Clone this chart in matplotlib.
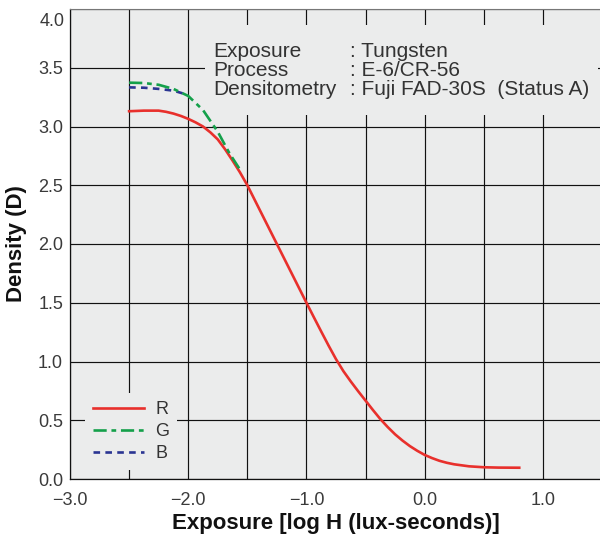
import matplotlib
matplotlib.use("Agg")
import matplotlib.pyplot as plt
from matplotlib.ticker import MultipleLocator, FuncFormatter
from matplotlib.patches import Rectangle

plt.rcParams['font.family'] = ['Liberation Sans', 'DejaVu Sans']

# Data
r_x = [-2.5, -2.375, -2.25, -2.1875, -2.125, -2.0625, -2.0, -1.9375, -1.875, -1.8125,
       -1.75, -1.6875, -1.625, -1.5625, -1.5, -1.375, -1.25, -1.125, -1.0, -0.9375,
       -0.875, -0.8125, -0.75, -0.6875, -0.625, -0.5625, -0.5, -0.4375, -0.375, -0.3125,
       -0.25, -0.1875, -0.125, -0.0625, 0.0, 0.0625, 0.125, 0.1875, 0.25, 0.375,
       0.5, 0.625, 0.8]
r_y = [3.13, 3.135, 3.135, 3.125, 3.11, 3.09, 3.065, 3.035, 3.0, 2.95,
       2.89, 2.805, 2.71, 2.61, 2.50, 2.25, 2.00, 1.75, 1.50, 1.377,
       1.255, 1.135, 1.02, 0.918, 0.83, 0.747, 0.667, 0.587, 0.51, 0.442,
       0.38, 0.327, 0.28, 0.24, 0.205, 0.178, 0.155, 0.138, 0.125, 0.108,
       0.10, 0.097, 0.096]
g_x = [-2.5, -2.375, -2.25, -2.125, -2.0, -1.875, -1.75, -1.65, -1.56]
g_y = [3.373, 3.37, 3.355, 3.32, 3.26, 3.14, 2.955, 2.77, 2.63]
b_x = [-2.5, -2.375, -2.25, -2.125, -2.04]
b_y = [3.333, 3.33, 3.32, 3.305, 3.28]

info_keys = ["Exposure", "Process", "Densitometry"]
info_vals = [": Tungsten", ": E-6/CR-56", ": Fuji FAD-30S  (Status A)"]

BG = "#ebecec"
TXT = "#333333"

fig = plt.figure(figsize=(6.0, 5.39), dpi=100)
ax = fig.add_axes([70/600, 60/539, 532/600, 470/539])
ax.set_facecolor(BG)

ax.plot(r_x, r_y, color="#e8302c", lw=1.9, label="R", zorder=4)
ax.plot(g_x, g_y, color="#14a04a", lw=1.9, ls=(0, (5, 1.8, 1.8, 1.8)), label="G", zorder=4)
ax.plot(b_x, b_y, color="#2a3592", lw=1.9, ls=(0, (2.5, 2.0)), label="B", zorder=3)

YMAX = 4.0
ax.set_xlim(-3.0, 1.5)
ax.set_ylim(0.0, YMAX)
ax.xaxis.set_major_locator(MultipleLocator(0.5))
ax.yaxis.set_major_locator(MultipleLocator(0.5))

def xfmt(v, pos):
    if abs(v - round(v)) < 1e-6 and v < 1.4:
        return f"{v:.1f}".replace("-", "\u2212")
    return ""

def yfmt(v, pos):
    if v > YMAX - 1e-6:
        return ""
    return f"{v:.1f}"

ax.xaxis.set_major_formatter(FuncFormatter(xfmt))
ax.yaxis.set_major_formatter(FuncFormatter(yfmt))

ax.grid(True, color="#111111", lw=0.85, zorder=1)
ax.set_axisbelow(True)
ax.tick_params(length=0, labelsize=13, labelcolor="#3a3a3a")
ax.tick_params(axis='x', pad=9.5)
ax.tick_params(axis='y', pad=5)

# top label (shifted down inside the frame, as in the reference)
ax.annotate(f"{YMAX:.1f}", xy=(0, 1), xycoords="axes fraction",
            xytext=(-5 * 72 / 100, -12 * 72 / 100), textcoords="offset points",
            ha="right", va="center", fontsize=13, color="#3a3a3a")

for s in ["left", "bottom"]:
    ax.spines[s].set_color("#111111")
    ax.spines[s].set_linewidth(0.9)
ax.spines["top"].set_color("#777777")
ax.spines["top"].set_linewidth(0.8)
ax.spines["top"].set_linestyle((0, (1, 1)))
ax.spines["right"].set_visible(False)

ax.set_xlabel("Exposure [log H (lux-seconds)]", fontsize=16, fontweight="bold",
              color="#111111", labelpad=3)
ax.set_ylabel("Density (D)", fontsize=16, fontweight="bold", color="#111111",
              labelpad=8)

# info box
ax.add_patch(Rectangle((0.254, 0.774), 0.738, 0.192, transform=ax.transAxes,
                       facecolor=BG, edgecolor="none", zorder=2))
ys = [0.898, 0.857, 0.817]
for k, v, y in zip(info_keys, info_vals, ys):
    ax.text(0.269, y, k, transform=ax.transAxes, fontsize=15, color=TXT,
            va="baseline", ha="left", zorder=5)
    ax.text(0.526, y, v, transform=ax.transAxes, fontsize=15, color=TXT,
            va="baseline", ha="left", zorder=5)

leg = ax.legend(loc="lower left", bbox_to_anchor=(0.028, 0.019), fontsize=13,
                handlelength=2.8, handletextpad=0.65, labelspacing=0.27,
                borderpad=0.45, borderaxespad=0, frameon=True, fancybox=False)
leg.get_frame().set_facecolor(BG)
leg.get_frame().set_edgecolor("none")
leg.get_frame().set_alpha(1)
for t in leg.get_texts():
    t.set_color(TXT)

fig.savefig("out.png", dpi=100, facecolor="white")
